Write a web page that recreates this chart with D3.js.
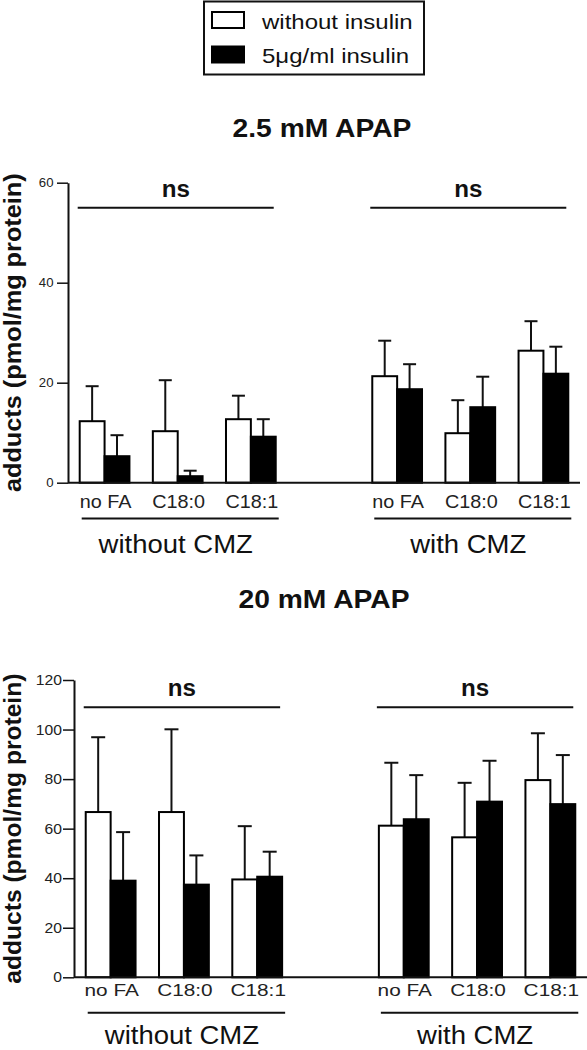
<!DOCTYPE html>
<html><head><meta charset="utf-8">
<script src="https://cdn.jsdelivr.net/npm/d3@7"></script>
<style>body{margin:0;background:#fff}svg{display:block}</style>
</head><body>
<svg id="chart" width="587" height="1050"></svg>
<script>
// ---------- data ----------
const seriesNames = ["without insulin", "5μg/ml insulin"];
const faCategories = ["no FA", "C18:0", "C18:1"];
const conditions = ["without CMZ", "with CMZ"];
const panelTitles = ["2.5 mM APAP", "20 mM APAP"];
const yTicksLow = [0, 20, 40, 60];
const yTicksHigh = [0, 20, 40, 60, 80, 100, 120];
const yLabel = "adducts (pmol/mg protein)";
const sigLabel = "ns";

// order: without CMZ [no FA, C18:0, C18:1], with CMZ [no FA, C18:0, C18:1]
const low_noIns_mean = [12.3, 10.3, 12.7, 21.3, 9.9, 26.4];
const low_noIns_sd   = [7.0, 10.2, 4.7, 7.1, 6.6, 5.9];
const low_ins_mean   = [5.3, 1.3, 9.2, 18.7, 15.1, 21.8];
const low_ins_sd     = [4.2, 1.1, 3.5, 5.0, 6.1, 5.4];

const high_noIns_mean = [66.7, 66.7, 39.5, 61.2, 56.5, 79.6];
const high_noIns_sd   = [30.2, 33.4, 21.5, 25.4, 22.0, 18.9];
const high_ins_mean   = [39.0, 37.4, 40.6, 63.8, 70.9, 69.9];
const high_ins_sd     = [19.6, 11.8, 10.1, 17.8, 16.5, 19.8];

const sigLevelLow = 55;
const sigLevelHigh = 109;

// ---------- drawing ----------
const svg = d3.select("#chart");
const FONT = "Arial, 'Liberation Sans', Helvetica, sans-serif";
const INK = "#111";

function stext(g, x, y, str, o) {
  return g.append("text")
    .attr("transform", `translate(${x},${y})` + (o.rotate ? ` rotate(${o.rotate})` : "") + ` scale(${o.sx || 1},1)`)
    .attr("text-anchor", o.anchor || "middle")
    .attr("font-family", FONT)
    .attr("font-size", o.size)
    .attr("font-weight", o.weight || "normal")
    .attr("fill", o.fill || INK)
    .text(str);
}

// legend
const lg = svg.append("g");
lg.append("rect").attr("x", 204).attr("y", 1.5).attr("width", 220).attr("height", 73)
  .attr("fill", "#fff").attr("stroke", INK).attr("stroke-width", 2);
seriesNames.forEach((s, i) => {
  lg.append("rect").attr("x", 212).attr("y", 12 + i * 34.5).attr("width", 32).attr("height", 16)
    .attr("fill", i ? "#000" : "#fff").attr("stroke", "#000").attr("stroke-width", 2);
  stext(lg, 262, 28.5 + i * 34, s, {size: 20, sx: 1.2, anchor: "start"});
});

function drawPanel(p) {
  const g = svg.append("g");
  const y = d3.scaleLinear().domain([0, p.yMax]).range([p.yBottom, p.yTop]);
  const xOuter = d3.scaleBand().domain(conditions).range([p.axisX, p.axisEnd])
    .paddingInner(0.33).paddingOuter(0.04);
  const xInner = d3.scaleBand().domain(faCategories).range([0, xOuter.bandwidth()])
    .paddingInner(0.32).paddingOuter(0);
  const xSeries = d3.scaleBand().domain(seriesNames).range([0, xInner.bandwidth()]);

  const data = [];
  conditions.forEach((c, ci) => faCategories.forEach((f, fi) => {
    const k = ci * 3 + fi;
    seriesNames.forEach((s, si) => data.push({c, f, s, si, mean: p.means[si][k], sd: p.sds[si][k]}));
  }));
  const bx = d => xOuter(d.c) + xInner(d.f) + xSeries(d.s);
  const bw = xSeries.bandwidth();

  // error bars (upper only)
  const eg = g.append("g").attr("stroke", INK).attr("stroke-width", 2);
  eg.selectAll("line.v").data(data).join("line").attr("class", "v")
    .attr("x1", d => bx(d) + bw / 2).attr("x2", d => bx(d) + bw / 2)
    .attr("y1", d => y(d.mean)).attr("y2", d => y(d.mean + d.sd));
  eg.selectAll("line.cap").data(data).join("line").attr("class", "cap")
    .attr("x1", d => bx(d) + bw / 2 - p.capW / 2).attr("x2", d => bx(d) + bw / 2 + p.capW / 2)
    .attr("y1", d => y(d.mean + d.sd)).attr("y2", d => y(d.mean + d.sd));

  // bars
  g.append("g").selectAll("rect").data(data).join("rect")
    .attr("x", d => bx(d)).attr("width", bw)
    .attr("y", d => y(d.mean)).attr("height", d => y(0) - y(d.mean))
    .attr("fill", d => d.si ? "#000" : "#fff")
    .attr("stroke", "#000").attr("stroke-width", 2);

  // y axis
  const yAxis = d3.axisLeft(y).tickValues(p.ticks).tickSize(p.tickLen).tickSizeOuter(0);
  const ag = g.append("g").attr("transform", `translate(${p.axisX},0)`).call(yAxis);
  ag.select(".domain").attr("stroke", INK).attr("stroke-width", 2);
  ag.selectAll(".tick line").attr("stroke", INK).attr("stroke-width", 1.5);
  ag.selectAll(".tick text")
    .attr("font-family", FONT).attr("font-size", p.tickFont).attr("fill", "#222")
    .attr("x", 0).attr("transform", `translate(${-p.tickLen - p.tickGap},0) scale(${p.tickSx},1)`);

  // x baseline
  g.append("line").attr("x1", p.axisX).attr("x2", p.axisEnd).attr("y1", y(0)).attr("y2", y(0))
    .attr("stroke", INK).attr("stroke-width", 2);

  conditions.forEach(c => {
    const x0 = xOuter(c), x1 = xOuter(c) + xOuter.bandwidth();
    // significance line + label
    g.append("line").attr("x1", x0 - 2).attr("x2", x1 - 2)
      .attr("y1", y(p.sig)).attr("y2", y(p.sig)).attr("stroke", INK).attr("stroke-width", 2);
    stext(g, (x0 + x1) / 2 - 2, y(p.sig) - 11, sigLabel, {size: 23, weight: "bold", sx: 1.05});
    // category labels
    faCategories.forEach(f => {
      stext(g, x0 + xInner(f) + xInner.bandwidth() / 2 + 1, p.catY, f, {size: p.catSize, sx: p.catSx, fill: "#222"});
    });
    // group underline + label
    g.append("line").attr("x1", x0 + 2).attr("x2", x1 + 3)
      .attr("y1", p.underY).attr("y2", p.underY).attr("stroke", INK).attr("stroke-width", 2);
    stext(g, (x0 + x1) / 2 - 2, p.groupY, c, {size: 25, sx: 1.1});
  });

  // title
  stext(g, p.titleX, p.titleY, p.title, {size: 25, weight: "bold", sx: 1.13});
  // y label
  stext(g, 21, (p.yBottom + p.yTop) / 2, yLabel, {size: 23, weight: "bold", rotate: -90, sx: p.yLabSx});
}

drawPanel({
  title: panelTitles[0], yMax: 60, ticks: yTicksLow,
  means: [low_noIns_mean, low_ins_mean], sds: [low_noIns_sd, low_ins_sd], sig: sigLevelLow,
  yBottom: 482.7, yTop: 182.7, axisX: 68, axisEnd: 580,
  tickLen: 11, tickGap: 3.5, tickFont: 12, tickSx: 1.1,
  catY: 508, catSize: 18, catSx: 1.1, underY: 518.5, groupY: 553,
  titleX: 322, titleY: 136.7, capW: 13, yLabSx: 1.1
});

drawPanel({
  title: panelTitles[1], yMax: 120, ticks: yTicksHigh,
  means: [high_noIns_mean, high_ins_mean], sds: [high_noIns_sd, high_ins_sd], sig: sigLevelHigh,
  yBottom: 977.3, yTop: 680, axisX: 74, axisEnd: 587,
  tickLen: 11, tickGap: 1, tickFont: 14, tickSx: 1.12,
  catY: 995.5, catSize: 16, catSx: 1.3, underY: 1012.7, groupY: 1044,
  titleX: 324, titleY: 608, capW: 14, yLabSx: 1.07
});
</script>
</body></html>
